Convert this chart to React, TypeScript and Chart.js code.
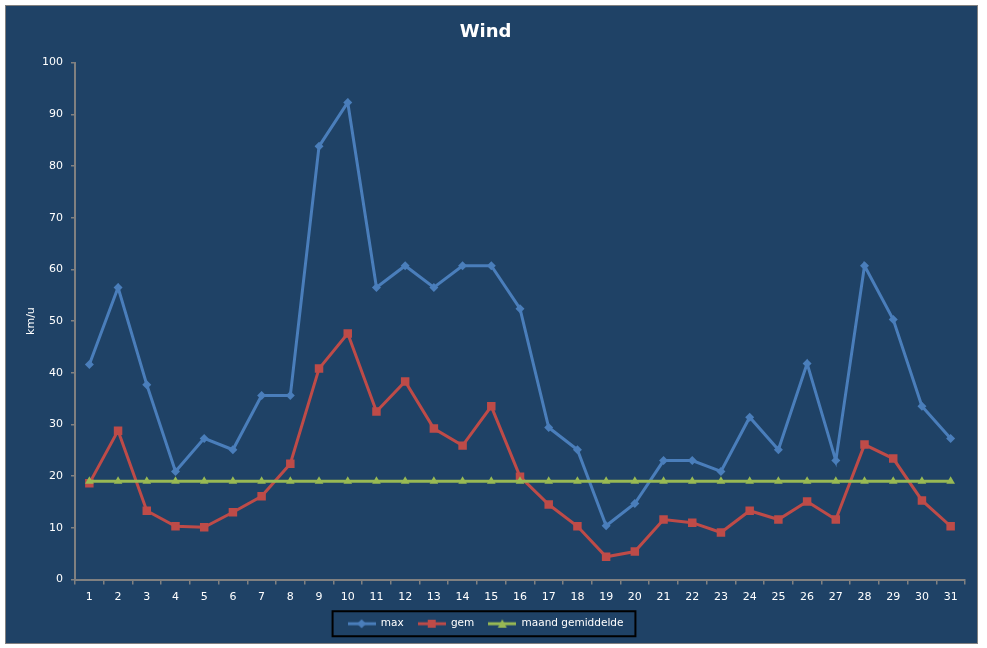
import { useEffect, useRef } from "react"
import { Chart, registerables } from "chart.js"

Chart.register(...registerables)

// dagen van de maand
const days = [
  "1", "2", "3", "4", "5", "6", "7", "8", "9", "10", "11", "12", "13", "14", "15", "16",
  "17", "18", "19", "20", "21", "22", "23", "24", "25", "26", "27", "28", "29", "30", "31",
]

// windsnelheden in km/u
const maxWind = [
  41.6, 56.5, 37.7, 20.9, 27.3, 25.1, 35.6, 35.6, 83.8, 92.3, 56.5, 60.7, 56.5, 60.7, 60.7, 52.4,
  29.4, 25.1, 10.4, 14.7, 23.0, 23.0, 20.9, 31.4, 25.1, 41.8, 23.0, 60.7, 50.3, 33.5, 27.3,
]
const gemWind = [
  18.6, 28.8, 13.3, 10.3, 10.1, 13.0, 16.1, 22.4, 40.8, 47.6, 32.5, 38.3, 29.2, 25.9, 33.5, 19.9,
  14.5, 10.3, 4.4, 5.4, 11.6, 11.0, 9.1, 13.3, 11.6, 15.1, 11.6, 26.1, 23.4, 15.3, 10.3,
]
const maandGem = [
  19, 19, 19, 19, 19, 19, 19, 19, 19, 19, 19, 19, 19, 19, 19, 19,
  19, 19, 19, 19, 19, 19, 19, 19, 19, 19, 19, 19, 19, 19, 19,
]

const yTicks = { min: 0, max: 100, step: 10 }

const BLUE = "#4a7ebb"
const RED = "#be4b48"
const GREEN = "#98b954"
const BG = "#1f4266"
const AXIS = "#808080"
const FONT = "'DejaVu Sans', Verdana, sans-serif"

// klein plaatje voor de legenda: lijn met marker
function legendIcon(color: string, marker: "diamond" | "square" | "triangle") {
  const c = document.createElement("canvas")
  c.width = 28
  c.height = 12
  const ctx = c.getContext("2d")!
  ctx.strokeStyle = color
  ctx.fillStyle = color
  ctx.lineWidth = 3
  ctx.beginPath()
  ctx.moveTo(0, 6)
  ctx.lineTo(28, 6)
  ctx.stroke()
  ctx.beginPath()
  if (marker === "diamond") {
    ctx.moveTo(14, 1.5)
    ctx.lineTo(18.5, 6)
    ctx.lineTo(14, 10.5)
    ctx.lineTo(9.5, 6)
  } else if (marker === "square") {
    ctx.rect(10, 2, 8, 8)
  } else {
    ctx.moveTo(14, 1.5)
    ctx.lineTo(18.5, 10)
    ctx.lineTo(9.5, 10)
  }
  ctx.closePath()
  ctx.fill()
  return c
}

// zwart kader rond de legenda
const legendFrame = {
  id: "legendFrame",
  afterDraw(chart: any) {
    const boxes = chart.legend?.legendHitBoxes
    if (!boxes || !boxes.length) return
    const left = Math.min(...boxes.map((b: any) => b.left)) - 15
    const right = Math.max(...boxes.map((b: any) => b.left + b.width)) + 12
    const mid = boxes[0].top + boxes[0].height / 2
    const ctx = chart.ctx
    ctx.save()
    ctx.strokeStyle = "#000000"
    ctx.lineWidth = 2
    ctx.strokeRect(left, mid - 12.5, right - left, 25)
    ctx.restore()
  },
}

export default function App() {
  const chartRef = useRef<HTMLCanvasElement>(null)
  const chartInstance = useRef<Chart | null>(null)

  useEffect(() => {
    if (!chartRef.current) return
    if (chartInstance.current) chartInstance.current.destroy()

    const icons = [
      { text: "max", color: BLUE, img: legendIcon(BLUE, "diamond") },
      { text: "gem", color: RED, img: legendIcon(RED, "square") },
      { text: "maand gemiddelde", color: GREEN, img: legendIcon(GREEN, "triangle") },
    ]

    chartInstance.current = new Chart(chartRef.current, {
      type: "line",
      data: {
        labels: days,
        datasets: [
          {
            label: "max",
            data: maxWind,
            borderColor: BLUE,
            backgroundColor: BLUE,
            borderWidth: 3,
            pointStyle: "rectRot",
            pointRadius: 4.5,
            pointBorderWidth: 0,
            order: 2,
          },
          {
            label: "gem",
            data: gemWind,
            borderColor: RED,
            backgroundColor: RED,
            borderWidth: 3,
            pointStyle: "rect",
            pointRadius: 6,
            pointBorderWidth: 0,
            order: 1,
          },
          {
            label: "maand gemiddelde",
            data: maandGem,
            borderColor: GREEN,
            backgroundColor: GREEN,
            borderWidth: 3,
            pointStyle: "triangle",
            pointRadius: 5,
            pointBorderWidth: 0,
            order: 0,
          },
        ],
      },
      options: {
        animation: false,
        responsive: true,
        maintainAspectRatio: false,
        layout: { padding: { left: 0, right: 12, top: 0, bottom: 4 } },
        elements: { line: { tension: 0 } },
        plugins: {
          title: {
            display: true,
            text: "Wind",
            color: "#ffffff",
            font: { family: FONT, size: 18, weight: "bold" },
            padding: { top: 16, bottom: 19 },
          },
          legend: {
            position: "bottom",
            labels: {
              color: "#ffffff",
              font: { family: FONT, size: 10.5 },
              usePointStyle: true,
              pointStyleWidth: 28,
              boxHeight: 11,
              padding: 14,
              generateLabels: () =>
                icons.map((it, i) => ({
                  text: it.text,
                  fillStyle: it.color,
                  strokeStyle: it.color,
                  lineWidth: 0,
                  pointStyle: it.img as any,
                  hidden: false,
                  datasetIndex: i,
                  fontColor: "#ffffff",
                })),
            },
          },
          tooltip: { enabled: false },
        },
        scales: {
          x: {
            offset: true,
            afterFit: (scale: any) => {
              scale.height = 25
            },
            grid: {
              offset: true,
              drawOnChartArea: false,
              drawTicks: true,
              tickLength: 5,
              color: AXIS,
              lineWidth: 1.5,
            },
            border: { color: AXIS, width: 2 },
            ticks: {
              color: "#ffffff",
              font: { family: FONT, size: 11 },
              padding: 6,
              maxRotation: 0,
              autoSkip: false,
            },
          },
          y: {
            min: yTicks.min,
            max: yTicks.max,
            afterFit: (scale: any) => {
              scale.width = 69
            },
            grid: {
              drawOnChartArea: false,
              drawTicks: true,
              tickLength: 4,
              color: AXIS,
              lineWidth: 1.5,
            },
            border: { color: AXIS, width: 2 },
            ticks: {
              stepSize: yTicks.step,
              color: "#ffffff",
              font: { family: FONT, size: 11 },
              padding: 8,
            },
            title: {
              display: true,
              text: "km/u",
              color: "#ffffff",
              font: { family: FONT, size: 11 },
              padding: { top: 19, bottom: 0 },
            },
          },
        },
      },
      plugins: [legendFrame],
    })

    return () => {
      if (chartInstance.current) {
        chartInstance.current.destroy()
        chartInstance.current = null
      }
    }
  }, [])

  return (
    <div
      style={{
        position: "absolute",
        left: 5,
        top: 5,
        width: 973,
        height: 639,
        boxSizing: "border-box",
        border: `1px solid ${AXIS}`,
        background: BG,
      }}
    >
      <canvas ref={chartRef}></canvas>
    </div>
  )
}
